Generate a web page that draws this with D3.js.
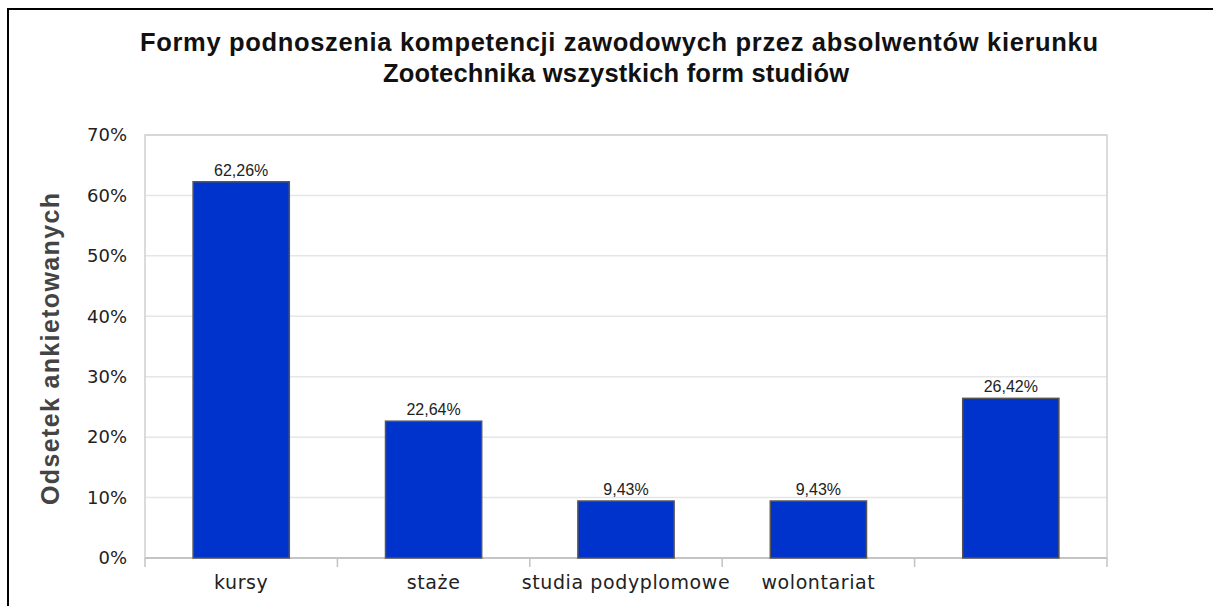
<!DOCTYPE html>
<meta charset="utf-8" />
<script src="https://d3js.org/d3.v7.min.js"></script>
<style>
  body { margin: 0; background: #fff; }
  svg { display: block; }
</style>
<div id="my_dataviz"></div>
<script>
  // chart data
  const titleLines = [
    'Formy podnoszenia kompetencji zawodowych przez absolwentów kierunku',
    'Zootechnika wszystkich form studiów'
  ];
  const categories = ['kursy', 'staże', 'studia podyplomowe', 'wolontariat', ''];
  const values = [0.6226, 0.2264, 0.0943, 0.0943, 0.2642];
  const yTicks = [0, 0.1, 0.2, 0.3, 0.4, 0.5, 0.6, 0.7];
  const yTitle = 'Odsetek ankietowanych';

  const W = 1213, H = 606;
  const plot = { left: 145, right: 1107, top: 135, bottom: 558 };

  const pl = d3.formatLocale({ decimal: ',', thousands: ' ', grouping: [3], currency: ['', ' zł'] });
  const fmtTick = pl.format('.0%');
  const fmtVal = pl.format('.2%');

  const svg = d3.select('#my_dataviz').append('svg')
    .attr('width', W).attr('height', H);

  // outer frame (runs off the right and bottom edges)
  svg.append('rect')
    .attr('x', 8).attr('y', 9)
    .attr('width', W + 20).attr('height', H + 20)
    .attr('fill', 'none').attr('stroke', '#000').attr('stroke-width', 2);

  const x = d3.scaleBand()
    .domain(categories)
    .range([plot.left, plot.right])
    .paddingInner(0.5)
    .paddingOuter(0.25);

  const y = d3.scaleLinear().domain([0, 0.7]).range([plot.bottom, plot.top]);

  // gridlines
  svg.append('g')
    .selectAll('line')
    .data(yTicks.slice(1))
    .join('line')
    .attr('x1', plot.left).attr('x2', plot.right)
    .attr('y1', d => y(d)).attr('y2', d => y(d))
    .attr('stroke', '#e6e6e6').attr('stroke-width', 1.5);

  // plot border
  svg.append('rect')
    .attr('x', plot.left).attr('y', plot.top)
    .attr('width', plot.right - plot.left).attr('height', plot.bottom - plot.top)
    .attr('fill', 'none').attr('stroke', '#d0d0d0').attr('stroke-width', 1.5);

  // y axis labels
  svg.append('g')
    .attr('transform', `translate(${plot.left},0)`)
    .call(d3.axisLeft(y).tickValues(yTicks).tickFormat(fmtTick).tickSize(0).tickPadding(18))
    .call(g => g.select('.domain').remove())
    .selectAll('text')
    .style('font-family', '"DejaVu Sans", sans-serif')
    .style('font-size', '18px')
    .attr('fill', '#222');

  // x axis baseline and category boundary ticks
  svg.append('line')
    .attr('x1', plot.left).attr('x2', plot.right)
    .attr('y1', plot.bottom).attr('y2', plot.bottom)
    .attr('stroke', '#bdbdbd').attr('stroke-width', 1.5);

  const bounds = d3.range(categories.length + 1).map(i => plot.left + i * x.step());
  svg.append('g')
    .selectAll('line')
    .data(bounds)
    .join('line')
    .attr('x1', d => d).attr('x2', d => d)
    .attr('y1', plot.bottom).attr('y2', plot.bottom + 9)
    .attr('stroke', '#c4c4c4').attr('stroke-width', 1.5);

  // x axis labels
  svg.append('g')
    .attr('transform', `translate(0,${plot.bottom})`)
    .call(d3.axisBottom(x).tickSize(0).tickPadding(18))
    .call(g => g.select('.domain').remove())
    .selectAll('text')
    .attr('dy', '0.71em')
    .style('font-family', '"DejaVu Sans", sans-serif')
    .style('font-size', '19px')
    .style('letter-spacing', '0.6px')
    .attr('fill', '#222');

  // bars
  svg.append('g')
    .selectAll('rect')
    .data(values)
    .join('rect')
    .attr('x', (d, i) => x(categories[i]))
    .attr('y', d => y(d))
    .attr('width', x.bandwidth())
    .attr('height', d => y(0) - y(d))
    .attr('fill', '#0033cc')
    .attr('stroke', '#555').attr('stroke-width', 1.5);

  // value labels
  svg.append('g')
    .selectAll('text')
    .data(values)
    .join('text')
    .attr('x', (d, i) => x(categories[i]) + x.bandwidth() / 2)
    .attr('y', d => y(d) - 6)
    .attr('text-anchor', 'middle')
    .style('font-family', '"Liberation Sans", Arial, sans-serif')
    .style('font-size', '16px')
    .attr('fill', '#222')
    .text(d => fmtVal(d));

  // title
  svg.append('g')
    .selectAll('text')
    .data(titleLines)
    .join('text')
    .attr('x', (d, i) => i === 0 ? 619 : 616)
    .attr('y', (d, i) => 51 + i * 31)
    .attr('text-anchor', 'middle')
    .attr('textLength', (d, i) => i === 0 ? 958 : 466)
    .attr('lengthAdjust', 'spacing')
    .style('font-family', '"Liberation Sans", Arial, sans-serif')
    .style('font-weight', 'bold')
    .style('font-size', '25.5px')
    .attr('fill', '#111')
    .text(d => d);

  // y axis title
  svg.append('text')
    .attr('transform', 'translate(59,349) rotate(-90)')
    .attr('text-anchor', 'middle')
    .attr('textLength', 312)
    .attr('lengthAdjust', 'spacing')
    .style('font-family', '"Liberation Sans", Arial, sans-serif')
    .style('font-weight', 'bold')
    .style('font-size', '25px')
    .attr('fill', '#444')
    .text(yTitle);
</script>
